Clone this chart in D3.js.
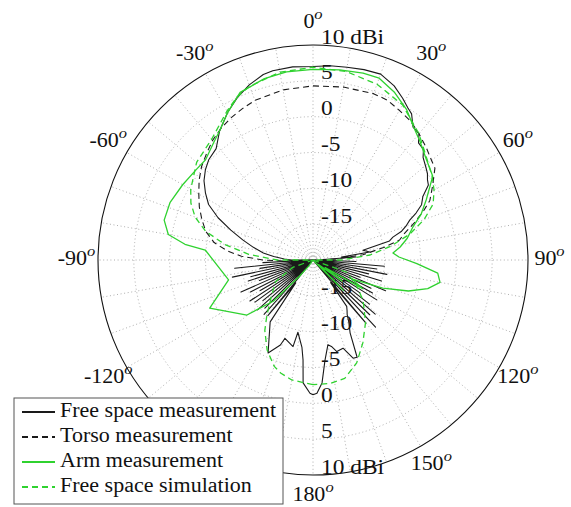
<!DOCTYPE html>
<html><head><meta charset="utf-8">
<script src="https://cdn.jsdelivr.net/npm/d3@7/dist/d3.min.js"></script>
<style>
body{margin:0;background:#fff}
text{font-family:"Liberation Serif","Times New Roman",serif;fill:#111}
</style>
</head><body>
<svg id="chart" width="571" height="507"></svg>
<script>
// ---- data (angle in degrees, 0 = top, clockwise positive; gain in dBi) ----
const ringTicks = [-15, -10, -5, 0, 5, 10];
// -150 label is hidden behind the legend in the reference
const angleTicks = [0, 30, 60, 90, 120, 150, 180, -120, -90, -60, -30];
const seriesNames = ["Free space measurement", "Torso measurement", "Arm measurement", "Free space simulation"];

const freeSpaceMeas = [
  [-180,-1.2],[-178.7,-1.4],[-175.4,-2.8],[-174.3,-6],[-172.8,-7.7],[-168.2,-9.7],[-167,-7.6],[-160.3,-8.4],[-159,-7.3],[-154.2,-5.6],[-145.3,-9.5],
  [-143,-16],[-141,-10],[-140,-23],[-138,-9.8],[-137,-21],[-135,-10.5],[-134,-25],[-132,-9.6],[-131,-22],[-129,-11],[-128,-24],[-126,-10],[-125,-21],
  [-123,-9.5],[-122,-25],[-120,-11.5],[-119,-22],[-117,-10.2],[-116,-24],[-114,-9],[-113,-21],[-111,-12],[-110,-25],[-108,-10.5],[-107,-22],[-105,-11],
  [-104,-24],[-102,-8.5],[-101,-21],[-99,-12.5],[-98,-23],[-96,-9],[-95,-22],[-93,-13],[-92,-20],
  [-90,-17],[-88,-16],[-85,-14.5],[-82,-13],[-78,-11.5],[-74,-9.8],[-70,-7.8],[-66,-5.5],[-62,-3.5],[-58,-2.3],[-54,-1.2],[-50,-0.4],[-46,0.2],[-41,0.6],
  [-36,2.2],[-30,3.8],[-25,5.0],[-20,6.0],[-15,6.8],[-12,7.0],[-6,7.1],[0,7.0],[5,7.2],[10,7.3],[15,7.5],[20,7.6],[25,6.8],[29,5.8],[32,5.0],[34,4.6],
  [37,3.2],[40,3.0],[42,2.0],[45,1.8],[47,1.0],[50.5,0.4],[53,0.0],[55,-0.5],[57,-0.8],[60,-2.3],[63,-3.0],[65.5,-4.2],[67.6,-5.4],[70,-6.2],[72,-7.0],
  [74,-8.4],[76,-9.0],[79,-12.9],[82,-12],[84,-16],[86,-14],[88,-19],
  [90,-19],[92,-14],[93,-24],[95,-10],[96,-25],[98,-11],[99,-22],[101,-9.5],[102,-24],[104,-12],[105,-21],[107,-10],[108,-25],[110,-13],[111,-22],
  [113,-9],[114,-23],[116,-11],[117,-26],[119,-10.5],[120,-22],[122,-9.5],[123,-24],[125,-12],[126,-21],[128,-10],[129,-25],[131,-8.5],[132,-22],
  [134,-9],[135,-23],[137,-7.2],[138,-20],[140,-8.5],[142,-16],[144,-12],[146,-11.5],[148,-11],[150,-10],[153,-8.6],[155.6,-5.1],[157.8,-5.2],
  [161.2,-7],[165.4,-6.8],[167.7,-7.6],[170,-8],[173.2,-5.9],[175.8,-2.8],[178.3,-1.4],[180,-1.2]
];

const torsoMeas = [
  [-180,-24],[-100,-24],[-95,-20],[-92,-16],[-90,-13],[-87,-10],[-84,-8],[-80,-6],[-75,-4.5],[-70,-3.5],[-65,-2.5],[-60,-1.6],[-55,-0.6],
  [-50,0.3],[-45,1.0],[-40,1.8],[-35,2.4],[-30,2.9],[-25,3.3],[-20,3.7],[-10,4.1],[0,4.3],[10,4.5],[20,4.7],[25,4.6],[30,4.1],[35,3.7],
  [40,3.0],[45,2.3],[50,1.6],[53,1.3],[58,-0.3],[63,-1.7],[66,-3.1],[70,-5],[74,-6.8],[77,-7.6],[80,-10],[84,-13],[88,-17],[92,-22],[180,-24]
];

const armMeas = [
  [-180,-22],[-170,-20],[-160,-22],[-150,-21],[-145,-19],[-140,-17],[-136,-12],[-132.2,-10],[-129.8,-8],[-115,-4.1],[-103.2,-7.9],[-84.7,-4.9],
  [-83,-2],[-80,0.5],[-75,1.5],[-68,1.5],[-60,1.0],[-52,0.6],[-47,0.5],[-40,1.5],[-35.6,2.3],[-30,3.8],[-23.5,5.5],[-15,6.2],[-8,6.5],[0,6.6],
  [8,6.8],[15,7.0],[20,7.0],[26,6.0],[32,4.7],[37,3.3],[42,2.3],[48,1.2],[55,0.4],[62,-2.1],[67,-3.6],[72,-5.4],[77,-6.5],[81.5,-7.7],[85,-8.8],
  [88,-8],[92,-5.5],[96,-2.5],[100,-2],[104,-3.5],[108,-6],[112,-9.5],[116,-14],[120,-12],[122,-18],[126,-15],[130,-19],[135,-14],[140,-20],
  [150,-22],[160,-20],[170,-22],[180,-22]
];

const freeSpaceSim = [
  [-180,-2.6],[-170,-3],[-164,-3.6],[-160,-4.2],[-153,-5.9],[-145.6,-8.1],[-140,-10],[-130,-12.5],[-120,-14],[-110,-17],[-100,-22],[-95,-20],
  [-90,-15],[-85,-11],[-80,-7.5],[-75,-4.5],[-70,-2.5],[-65,-1.2],[-60,-0.3],[-50,1.2],[-40,2.0],[-30,4.0],[-25,5.1],[-20,5.8],[-10,6.6],[0,6.9],
  [10,6.7],[20,6.1],[30,5.0],[40,3.0],[50,1.0],[55,0.3],[60,-0.5],[65,-1.5],[70,-3.5],[75,-6],[80,-9],[85,-12],[90,-16],[95,-21],[100,-20],
  [110,-15],[120,-13],[129,-11],[140,-8.6],[149,-6.5],[157,-4.4],[165,-2.9],[172,-2.6],[180,-2.6]
];

// ---- drawing ----
const svg = d3.select("#chart");
const cx = 313, cy = 260, R = 215;
const r = d3.scaleLinear().domain([-20, 10]).range([0, R]).clamp(true);
const rad = d => d * Math.PI / 180;
const g = svg.append("g").attr("transform", `translate(${cx},${cy})`);

// dotted spokes
const spokes = d3.range(0, 360, 10);
g.selectAll("line.spoke").data(spokes).join("line")
  .attr("x1", 0).attr("y1", 0)
  .attr("x2", d => R * Math.sin(rad(d))).attr("y2", d => -R * Math.cos(rad(d)))
  .attr("stroke", "#9a9a9a").attr("stroke-width", 0.8).attr("stroke-dasharray", "1,2.6");

// dotted rings
g.selectAll("circle.ring").data(ringTicks.filter(t => t < 10)).join("circle")
  .attr("r", d => r(d)).attr("fill", "none")
  .attr("stroke", "#9a9a9a").attr("stroke-width", 0.8).attr("stroke-dasharray", "1,2.6");

// outer circle
g.append("circle").attr("r", r(10)).attr("fill", "none").attr("stroke", "#111").attr("stroke-width", 1.1);

// ring labels (top and bottom)
const ringLabel = t => t === 10 ? "10 dBi" : String(t);
const rl = g.selectAll("text.rl").data(ringTicks.flatMap(t => [[t, -1], [t, 1]])).join("text")
  .attr("x", 8).attr("y", d => d[1] * r(d[0]) - 6)
  .attr("dominant-baseline", "middle").attr("font-size", 20)
  .text(d => ringLabel(d[0]));

// angle labels
const al = g.selectAll("text.al").data(angleTicks).join("text")
  .attr("transform", d => `translate(${1.1 * R * Math.sin(rad(d))},${-1.1 * R * Math.cos(rad(d))}) scale(1.1,1)`)
  .attr("text-anchor", "middle").attr("dominant-baseline", "middle").attr("font-size", 20);
al.append("tspan").text(d => String(d));
al.append("tspan").attr("dy", -8).attr("font-size", 15).attr("font-style", "italic").text("o");

// series
const line = d3.lineRadial().angle(d => rad(d[0])).radius(d => r(d[1]));
const series = [
  {data: freeSpaceMeas, color: "#1a1a1a", dash: null, w: 1.1},
  {data: torsoMeas, color: "#1a1a1a", dash: "6,4", w: 1.1},
  {data: armMeas, color: "#2fd22f", dash: null, w: 1.3},
  {data: freeSpaceSim, color: "#2fd22f", dash: "6,4", w: 1.3}
];
series.forEach(s => {
  g.append("path").attr("d", line(s.data)).attr("fill", "none")
    .attr("stroke", s.color).attr("stroke-width", s.w)
    .attr("stroke-dasharray", s.dash).attr("stroke-linejoin", "round");
});

// legend
const lg = svg.append("g").attr("transform", "translate(14,398)");
lg.append("rect").attr("width", 269).attr("height", 106).attr("fill", "#fff").attr("stroke", "#555").attr("stroke-width", 1);
const items = lg.selectAll("g.item").data(seriesNames).join("g")
  .attr("transform", (d, i) => `translate(0,${14 + 25 * i})`);
items.append("line").attr("x1", 8).attr("x2", 41).attr("y1", 0).attr("y2", 0)
  .attr("stroke", (d, i) => series[i].color).attr("stroke-width", 2)
  .attr("stroke-dasharray", (d, i) => series[i].dash);
const lt = items.append("text").attr("x", 46).attr("y", 0).attr("dominant-baseline", "middle")
  .attr("font-size", 20).text(d => d);

function stretch(sel, k) {
  sel.each(function () {
    const w = this.getComputedTextLength();
    d3.select(this).attr("textLength", w * k).attr("lengthAdjust", "spacingAndGlyphs");
  });
}
stretch(lt, 1.1);
stretch(rl, 1.17);
</script>
</body></html>
